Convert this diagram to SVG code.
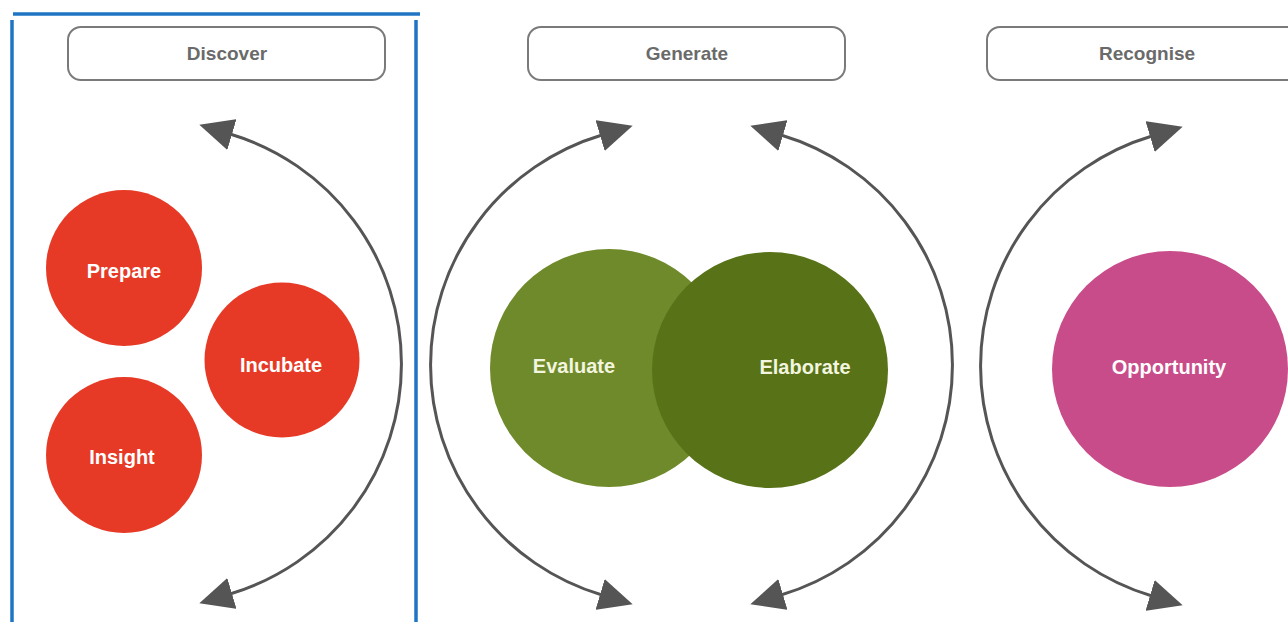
<svg xmlns="http://www.w3.org/2000/svg" width="1288" height="622" viewBox="0 0 1288 622">
  <style>
    .frame { stroke: #1f74c4; stroke-width: 3.5; fill: none; }
    .header rect { fill: #ffffff; stroke: #7a7a7a; stroke-width: 2; }
    .header text { font-family: "Liberation Sans", Arial, sans-serif; font-weight: bold; font-size: 19px; fill: #6a6a6a; text-anchor: middle; }
    .node text { font-family: "Liberation Sans", Arial, sans-serif; font-weight: bold; font-size: 20px; fill: #ffffff; text-anchor: middle; }
    .node .green { fill: #f2f5df; }
    .red { fill: #e63a26; }
    .arc { fill: none; stroke: #555555; stroke-width: 3; marker-start: url(#head); marker-end: url(#head); }
  </style>
  <defs>
    <marker id="head" viewBox="0 0 34 32" refX="2" refY="16" markerWidth="34" markerHeight="32" markerUnits="userSpaceOnUse" orient="auto-start-reverse">
      <path d="M0,0 L34,16 L0,32 z" fill="#555555"/>
    </marker>
  </defs>

  <rect width="1288" height="622" fill="#ffffff"/>

  <!-- selection frame around the first stage -->
  <g id="frame">
    <line class="frame" x1="13" y1="14" x2="420" y2="14"/>
    <line class="frame" x1="12" y1="20" x2="12" y2="622"/>
    <line class="frame" x1="416" y1="20" x2="416" y2="622"/>
  </g>

  <!-- stage headers -->
  <g id="discover" class="header">
    <rect x="68" y="27" width="317" height="53" rx="13"/>
    <text x="227" y="60">Discover</text>
  </g>
  <g id="generate" class="header">
    <rect x="528" y="27" width="317" height="53" rx="13"/>
    <text x="687" y="60">Generate</text>
  </g>
  <g id="recognise" class="header">
    <rect x="987" y="27" width="317" height="53" rx="13"/>
    <text x="1147" y="60">Recognise</text>
  </g>

  <!-- double-headed cycle arcs -->
  <g id="connectors">
    <path class="arc" d="M 230 134 A 240 240 0 0 1 230 594"/>
    <path class="arc" d="M 602 135 A 240 240 0 0 0 602 595"/>
    <path class="arc" d="M 781 135 A 240 240 0 0 1 781 595"/>
    <path class="arc" d="M 1152 136 A 240 240 0 0 0 1152 596"/>
  </g>

  <!-- Discover stage -->
  <g id="prepare" class="node">
    <circle class="red" cx="124" cy="268" r="78"/>
    <text x="124" y="278">Prepare</text>
  </g>
  <g id="incubate" class="node">
    <circle class="red" cx="282" cy="360" r="77.5"/>
    <text x="281" y="372">Incubate</text>
  </g>
  <g id="insight" class="node">
    <circle class="red" cx="124" cy="455" r="78"/>
    <text x="122" y="464">Insight</text>
  </g>

  <!-- Generate stage -->
  <g id="evaluate" class="node">
    <circle cx="609" cy="368" r="119" fill="#6f8a2a"/>
    <text class="green" x="574" y="373">Evaluate</text>
  </g>
  <g id="elaborate" class="node">
    <circle cx="770" cy="370" r="118" fill="#587218"/>
    <text class="green" x="805" y="374">Elaborate</text>
  </g>

  <!-- Recognise stage -->
  <g id="opportunity" class="node">
    <circle cx="1170" cy="369" r="118" fill="#c94c8a"/>
    <text x="1169" y="374">Opportunity</text>
  </g>
</svg>
